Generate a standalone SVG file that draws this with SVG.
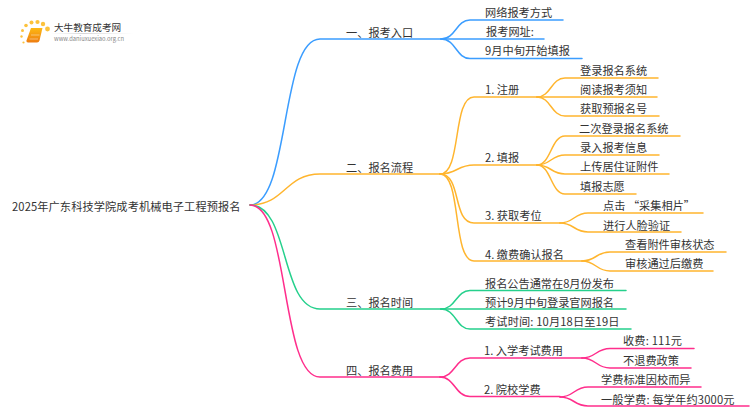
<svg xmlns="http://www.w3.org/2000/svg" width="750" height="410" viewBox="0 0 750 410">
<style>
text{font-family:"Noto Sans CJK SC","Noto Sans",sans-serif;font-size:11.2px;fill:#333}
.c path{fill:none;stroke-width:1.5;stroke-linecap:round}
.b path{stroke:#3b9dff}.o path{stroke:#ffb52e}.g path{stroke:#25d08c}.p path{stroke:#ff2e8c}
</style>
<defs><linearGradient id="u"><stop offset="0" stop-color="#ddd" stop-opacity="0"/><stop offset=".4" stop-color="#ccc"/><stop offset="1" stop-color="#ddd" stop-opacity="0"/></linearGradient>
<linearGradient id="bk" x1="0" y1="0" x2="0" y2="1"><stop offset="0" stop-color="#fdb913"/><stop offset="1" stop-color="#ee7d11"/></linearGradient></defs>
<g id="logo">
<g fill="#fcc23c"><circle cx="47.500" cy="29" r="2.400"/><circle cx="43" cy="24" r="2.200"/><circle cx="37.500" cy="22" r="2.100"/><circle cx="31.500" cy="22.500" r="2"/><circle cx="26" cy="25.500" r="1.800"/><circle cx="22.500" cy="30.500" r="1.500"/><circle cx="21.500" cy="36.500" r="1.200"/><circle cx="23.500" cy="42.500" r="1.100"/></g>
<path d="M31 28h11.500l-3 12.500q-.5 2-2.500 2h-9q-2 0-1.500-2z" fill="url(#bk)"/><path d="M29.500 39h8.500M31 35h8.500" stroke="#fff" stroke-width=".7" opacity=".6"/>
<text x="54" y="31" style="font-size:9.600px">大牛教育成考网</text>
<rect x="50" y="33" width="84" height=".8" fill="url(#u)"/>
<text x="54" y="41" style="font-size:5.800px;fill:#888">www.daniuxuexiao.org.cn</text>
</g>
<g id="connectors" class="c">
<g class="b"><path d="M250 205C290 205 280 39 320 39H441"/><path d="M441 39C456 39 456 20 470 20H563"/><path d="M441 39H544"/><path d="M441 39C456 39 456 58.500 470 58.500H582"/></g>
<g class="o"><path d="M250 205C285 205 285 174 320 174H440"/><path d="M440 174C462 174 452 97 474 97H537"/><path d="M440 174C457 174 457 165 474 165H537"/><path d="M440 174C462 174 452 223 474 223H560"/><path d="M440 174C462 174 452 261 474 261H582"/>
<path d="M537 97C551 97 551 78 565 78H658"/><path d="M537 97H657"/><path d="M537 97C551 97 551 116 565 116H659"/>
<path d="M537 165C551 165 551 136 565 136H680"/><path d="M537 165C551 165 551 155 565 155H659"/><path d="M537 165C551 165 551 174 565 174H669"/><path d="M537 165C551 165 551 194 565 194H636"/>
<path d="M560 223C574 223 574 213 588 213H703"/><path d="M560 223C574 223 574 232 588 232H681"/>
<path d="M582 261C596 261 596 252 610 252H726"/><path d="M582 261C596 261 596 271 610 271H713"/></g>
<g class="g"><path d="M250 205C290 205 280 309 320 309H441"/><path d="M441 309C456 309 456 290.500 470 290.500H626"/><path d="M441 309H626"/><path d="M441 309C456 309 456 329 470 329H631"/></g>
<g class="p"><path d="M250 205C290 205 280 377 320 377H440"/><path d="M440 377C455 377 455 358 470 358H582"/><path d="M440 377C455 377 455 396.500 470 396.500H560"/>
<path d="M582 358C596 358 596 348.500 610 348.500H694"/><path d="M582 358C596 358 596 368 610 368H691"/>
<path d="M560 397C574 397 574 387 588 387H701"/><path d="M560 397C574 397 574 406 588 406H749"/></g>
</g>
<g id="root"><text x="12" y="210.700" textLength="228.500">2025年广东科技学院成考机械电子工程预报名</text></g>
<g id="n1"><text x="346" y="36.700">一、报考入口</text></g>
<g id="n1-1"><text x="485" y="16.700">网络报考方式</text></g>
<g id="n1-2"><text x="486" y="35.700">报考网址:</text></g>
<g id="n1-3"><text x="485" y="55.200" textLength="85">9月中旬开始填报</text></g>
<g id="n2"><text x="346" y="171.700">二、报名流程</text></g>
<g id="n2-1"><text x="485" y="93.700">1. 注册</text></g>
<g id="n2-1-1"><text x="580" y="74.700">登录报名系统</text></g>
<g id="n2-1-2"><text x="580" y="93.700">阅读报考须知</text></g>
<g id="n2-1-3"><text x="580" y="112.700">获取预报名号</text></g>
<g id="n2-2"><text x="485" y="161.700">2. 填报</text></g>
<g id="n2-2-1"><text x="579" y="132.700">二次登录报名系统</text></g>
<g id="n2-2-2"><text x="580" y="151.700">录入报考信息</text></g>
<g id="n2-2-3"><text x="580" y="170.700">上传居住证附件</text></g>
<g id="n2-2-4"><text x="580" y="190.700">填报志愿</text></g>
<g id="n2-3"><text x="485" y="219.700">3. 获取考位</text></g>
<g id="n2-3-1"><text x="603" y="209.700">点击 “采集相片”</text></g>
<g id="n2-3-2"><text x="603" y="229.700">进行人脸验证</text></g>
<g id="n2-4"><text x="485" y="258.700">4. 缴费确认报名</text></g>
<g id="n2-4-1"><text x="625" y="248.700">查看附件审核状态</text></g>
<g id="n2-4-2"><text x="625" y="267.700">审核通过后缴费</text></g>
<g id="n3"><text x="346" y="306.700">三、报名时间</text></g>
<g id="n3-1"><text x="485" y="287.700" textLength="129">报名公告通常在8月份发布</text></g>
<g id="n3-2"><text x="485" y="306.700" textLength="129">预计9月中旬登录官网报名</text></g>
<g id="n3-3"><text x="485" y="325.700" textLength="134.500">考试时间: 10月18日至19日</text></g>
<g id="n4"><text x="346" y="374.700">四、报名费用</text></g>
<g id="n4-1"><text x="484" y="354.700">1. 入学考试费用</text></g>
<g id="n4-1-1"><text x="623" y="344.700" textLength="59">收费: 111元</text></g>
<g id="n4-1-2"><text x="623" y="364.700">不退费政策</text></g>
<g id="n4-2"><text x="484" y="393.700">2. 院校学费</text></g>
<g id="n4-2-1"><text x="601" y="383.700">学费标准因校而异</text></g>
<g id="n4-2-2"><text x="601" y="403.700" textLength="133.500">一般学费: 每学年约3000元</text></g>
</svg>
